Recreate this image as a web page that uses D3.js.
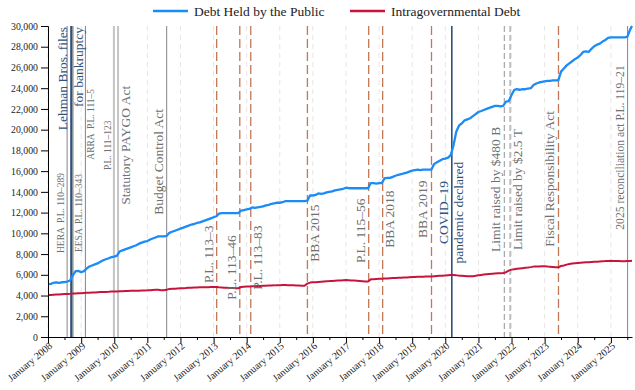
<!DOCTYPE html>
<html>
<head>
<meta charset="utf-8">
<script src="https://cdn.jsdelivr.net/npm/d3@7"></script>
<style>
  body { margin: 0; background: #fff; }
  svg { font-family: "Palatino Linotype", "Book Antiqua", Palatino, "Liberation Serif", serif; }
</style>
</head>
<body>
<div id="chart"></div>
<script>
// billions of dollars (1st of each month, Jan 2008 - Aug 2025, then last day shown)
const months = d3.timeMonth.range(new Date(2008, 0, 1), new Date(2025, 8, 1))
    .concat([new Date(2025, 7, 22)]);

const publicDebt = [
    5100, 5130, 5230, 5280, 5220, 5280, 5300, 5350, 5450, 5950, 6350, 6380,
    6250, 6350, 6600, 6800, 6900, 7000, 7100, 7250, 7400, 7500, 7600, 7700,
    7750, 7850, 8250, 8350, 8450, 8550, 8650, 8750, 8850, 9000, 9100, 9200,
    9250, 9400, 9500, 9600, 9700, 9700, 9700, 9750, 10050, 10150, 10250, 10350,
    10450, 10550, 10650, 10750, 10850, 10900, 11000, 11050, 11150, 11250, 11350, 11450,
    11550, 11650, 11900, 11950, 11950, 11950, 11950, 11950, 11950, 11950, 12200, 12250,
    12300, 12350, 12500, 12450, 12500, 12550, 12600, 12700, 12750, 12850, 12900, 12950,
    12950, 13000, 13100, 13100, 13100, 13100, 13100, 13100, 13100, 13100, 13150, 13650,
    13650, 13700, 13850, 13800, 13850, 13950, 14000, 14050, 14150, 14200, 14250, 14300,
    14400, 14350, 14350, 14350, 14350, 14350, 14350, 14350, 14350, 14850, 14850, 14800,
    14850, 14850, 15300, 15350, 15350, 15450, 15550, 15650, 15700, 15780, 15850, 15950,
    16050, 16100, 16150, 16100, 16150, 16150, 16150, 16150, 16700, 16850, 17000, 17150,
    17200, 17300, 17550, 18500, 19800, 20400, 20600, 20900, 21000, 21100, 21300, 21500,
    21700, 21800, 21900, 22000, 22100, 22200, 22300, 22300, 22250, 22300, 22700, 22750,
    23350, 23850, 23900, 23850, 23900, 23900, 23950, 24000, 24300, 24450, 24550, 24600,
    24650, 24700, 24700, 24750, 24750, 24750, 25600, 25900, 26200, 26400, 26600, 26800,
    26950, 27200, 27500, 27550, 27500, 27800, 28050, 28200, 28300, 28500, 28650, 28850,
    28900, 28900, 28900, 28900, 28900, 28900, 28950, 29650,
    30000
];

const intragovDebt = [
    4050, 4060, 4080, 4100, 4100, 4120, 4140, 4150, 4170, 4200, 4200, 4220,
    4230, 4250, 4270, 4280, 4290, 4300, 4320, 4330, 4340, 4350, 4360, 4380,
    4380, 4400, 4410, 4420, 4430, 4440, 4450, 4450, 4460, 4470, 4480, 4490,
    4500, 4520, 4540, 4560, 4550, 4520, 4500, 4550, 4640, 4650, 4660, 4680,
    4700, 4710, 4720, 4740, 4750, 4770, 4780, 4790, 4800, 4800, 4810, 4820,
    4830, 4830, 4800, 4780, 4760, 4740, 4730, 4720, 4710, 4700, 4820, 4850,
    4870, 4880, 4890, 4900, 4910, 4920, 4940, 4950, 4960, 4970, 4980, 5000,
    5000, 5010, 5010, 5000, 4990, 4980, 4970, 4960, 4950, 4940, 5150, 5250,
    5270, 5290, 5310, 5330, 5350, 5370, 5390, 5400, 5420, 5440, 5460, 5480,
    5490, 5480, 5460, 5440, 5420, 5400, 5380, 5360, 5350, 5560, 5580, 5600,
    5610, 5620, 5640, 5650, 5670, 5690, 5700, 5710, 5720, 5740, 5750, 5770,
    5780, 5790, 5800, 5810, 5820, 5830, 5830, 5840, 5860, 5880, 5900, 5920,
    5940, 5960, 5980, 5990, 5950, 5920, 5900, 5880, 5860, 5850, 5870, 5900,
    5950, 5990, 6020, 6050, 6080, 6110, 6130, 6140, 6150, 6170, 6250, 6400,
    6500, 6540, 6580, 6610, 6640, 6670, 6700, 6740, 6790, 6800, 6810, 6820,
    6830, 6800, 6780, 6760, 6730, 6720, 6850, 6900, 6980, 7050, 7100, 7120,
    7140, 7160, 7180, 7200, 7220, 7240, 7260, 7270, 7290, 7310, 7320, 7340,
    7350, 7340, 7330, 7320, 7310, 7300, 7320, 7340,
    7350
];

const seriesNames = ["Debt Held by the Public", "Intragovernmental Debt"];

const yTicks = [0, 2000, 4000, 6000, 8000, 10000, 12000, 14000, 16000,
    18000, 20000, 22000, 24000, 26000, 28000, 30000];
const tickYears = [2008, 2009, 2010, 2011, 2012, 2013, 2014, 2015, 2016,
    2017, 2018, 2019, 2020, 2021, 2022, 2023, 2024, 2025];

// events marked on the chart
const eventDates = ["2008-07-30", "2008-09-15", "2008-10-03", "2009-02-17", "2009-12-28",
    "2010-02-12", "2011-08-02", "2013-02-04", "2013-10-17", "2014-02-15", "2015-11-02",
    "2017-09-08", "2018-02-09", "2019-08-02", "2020-03-13", "2021-10-14", "2021-12-16",
    "2023-06-03", "2025-07-04"];
const eventLabels = [
    ["HERA  P.L. 110–289"], ["Lehman Bros. files", "for bankruptcy"], ["EESA  P.L. 110–343"],
    ["ARRA  P.L. 111–5"], ["P.L. 111–123"], ["Statutory PAYGO Act"], ["Budget Control Act"],
    ["P.L. 113–3"], ["P.L. 113–46"], ["P.L. 113–83"], ["BBA 2015"], ["P.L. 115–56"],
    ["BBA 2018"], ["BBA 2019"], ["COVID–19", "pandemic declared"], ["Limit raised by $480 B"],
    ["Limit raised by $2.5 T"], ["Fiscal Responsibility Act"], ["2025 reconciliation act P.L. 119–21"]];
const eventKinds = ["law", "crisis", "law", "law", "law2", "law2", "law", "budget", "budget",
    "budget", "budget", "budget", "budget", "budget", "crisis", "limit", "limit", "budget", "law"];

// label placement: which side of the line, where along the y scale the text is anchored
const labelLayout = [
    { sides: ["l"], at: 8100, anchor: "start", size: 9.5 },
    { sides: ["l", "r"], at: 29900, anchor: "end", size: 13.5 },
    { sides: ["r"], at: 8200, anchor: "start", size: 9.5 },
    { sides: ["r"], at: 17100, anchor: "start", size: 9.5 },
    { sides: ["l"], at: 16100, anchor: "start", size: 9.5 },
    { sides: ["r"], at: 12750, anchor: "start", size: 13.5 },
    { sides: ["l"], at: 11800, anchor: "start", size: 13.5 },
    { sides: ["l"], at: 5200, anchor: "start", size: 13.5 },
    { sides: ["l"], at: 3600, anchor: "start", size: 13.5 },
    { sides: ["r"], at: 4550, anchor: "start", size: 13.5 },
    { sides: ["r"], at: 7250, anchor: "start", size: 13.5 },
    { sides: ["l"], at: 7150, anchor: "start", size: 13.5 },
    { sides: ["r"], at: 8600, anchor: "start", size: 13.5 },
    { sides: ["l"], at: 9550, anchor: "start", size: 13.5 },
    { sides: ["l", "r"], at: 12000, anchor: "middle", size: 13.5 },
    { sides: ["l"], at: 8200, anchor: "start", size: 13.5 },
    { sides: ["r"], at: 8400, anchor: "start", size: 13.5 },
    { sides: ["l"], at: 8700, anchor: "start", size: 13.5 },
    { sides: ["l"], at: 10350, anchor: "start", size: 11.6 }
];

const lineStyles = {
    law:    { stroke: "#8f8f8f", width: 1.1, dash: null },
    law2:   { stroke: "#c4c4c4", width: 2, dash: null },
    crisis: { stroke: "#2f527b", width: 1.6, dash: null },
    budget: { stroke: "#c27756", width: 1.3, dash: "9,4" },
    limit:  { stroke: "#ababab", width: 1.3, dash: "6,3" }
};

const drawChart = () => {
    const width = 635;
    const height = 390;
    const margin = { top: 26, right: 3, bottom: 53, left: 48 };
    const innerWidth = width - margin.left - margin.right;
    const innerHeight = height - margin.top - margin.bottom;

    const blue = "#1b8cf7";
    const crimson = "#c8143c";
    const labelGrey = "#707070";

    const xScale = d3.scaleTime()
        .domain([new Date(2008, 0, 1), new Date(2025, 7, 22)])
        .range([0, innerWidth]);

    const yScale = d3.scaleLinear()
        .domain([0, 30000])
        .range([innerHeight, 0]);

    const svg = d3.select("#chart")
        .append("svg")
        .attr("width", width)
        .attr("height", height);

    const innerChart = svg.append("g")
        .attr("transform", `translate(${margin.left},${margin.top})`);

    // faint dashed year grid
    innerChart.selectAll(".grid")
        .data(tickYears)
        .join("line")
            .attr("class", "grid")
            .attr("x1", d => xScale(new Date(d, 0, 1)))
            .attr("x2", d => xScale(new Date(d, 0, 1)))
            .attr("y1", 0)
            .attr("y2", innerHeight)
            .attr("stroke", "#e6e6e6")
            .attr("stroke-width", 1)
            .attr("stroke-dasharray", "5,4");

    // event lines
    const parseDate = d3.timeParse("%Y-%m-%d");
    const events = eventDates.map((d, i) => ({
        date: parseDate(d),
        lines: eventLabels[i],
        kind: eventKinds[i],
        layout: labelLayout[i]
    }));

    innerChart.selectAll(".event")
        .data(events)
        .join("line")
            .attr("class", "event")
            .attr("x1", d => xScale(d.date))
            .attr("x2", d => xScale(d.date))
            .attr("y1", 0)
            .attr("y2", innerHeight)
            .attr("stroke", d => lineStyles[d.kind].stroke)
            .attr("stroke-width", (d, i) => i === 1 ? 2.4 : lineStyles[d.kind].width)
            .attr("stroke-dasharray", d => lineStyles[d.kind].dash);

    // series
    const series = [publicDebt, intragovDebt];
    const colors = [blue, crimson];
    const line = d3.line()
        .x((d, i) => xScale(months[i]))
        .y(d => yScale(d));

    innerChart.selectAll(".series")
        .data(series)
        .join("path")
            .attr("class", "series")
            .attr("d", d => line(d))
            .attr("fill", "none")
            .attr("stroke", (d, i) => colors[i])
            .attr("stroke-width", (d, i) => i === 0 ? 2.3 : 2)
            .attr("stroke-linejoin", "round");

    // event labels (rotated)
    events.forEach(ev => {
        const x = xScale(ev.date);
        const s = ev.layout.size;
        ev.lines.forEach((txt, j) => {
            const side = ev.layout.sides[j];
            const bx = side === "l" ? x - 0.3 * s : x + 0.7 * s + 2;
            innerChart.append("text")
                .attr("transform", `translate(${bx},${yScale(ev.layout.at)}) rotate(-90)`)
                .attr("text-anchor", ev.layout.anchor)
                .attr("font-size", s)
                .attr("fill", ev.kind === "crisis" ? "#2f527b" : labelGrey)
                .attr("xml:space", "preserve")
                .style("white-space", "pre")
                .text(txt);
        });
    });

    // axes
    const leftAxis = d3.axisLeft(yScale)
        .tickValues(yTicks)
        .tickFormat(d3.format(","))
        .tickSize(7)
        .tickPadding(3);

    const yAxis = innerChart.append("g").call(leftAxis);
    yAxis.selectAll("text")
        .attr("font-size", 9.8)
        .attr("font-family", "\"Palatino Linotype\", \"Liberation Serif\", serif")
        .attr("fill", "#222");

    const bottomAxis = d3.axisBottom(xScale)
        .tickValues(tickYears.map(y => new Date(y, 0, 1)))
        .tickFormat(d3.timeFormat("January %Y"))
        .tickSize(6)
        .tickSizeOuter(0);

    const xAxis = innerChart.append("g")
        .attr("transform", `translate(0,${innerHeight})`)
        .call(bottomAxis);
    xAxis.selectAll("text")
        .attr("font-size", 10.2)
        .attr("font-family", "\"Palatino Linotype\", \"Liberation Serif\", serif")
        .attr("fill", "#222")
        .attr("text-anchor", "end")
        .attr("y", 0)
        .attr("dy", "0")
        .attr("transform", "translate(4.5,10) rotate(-40)");

    const minorAxis = d3.axisBottom(xScale)
        .tickValues(tickYears.map(y => new Date(y, 6, 1)))
        .tickFormat("")
        .tickSize(3)
        .tickSizeOuter(0);
    innerChart.append("g")
        .attr("transform", `translate(0,${innerHeight})`)
        .call(minorAxis)
        .select(".domain").remove();

    // legend
    const legend = svg.append("g");
    const legendX = [153, 350];
    seriesNames.forEach((name, i) => {
        legend.append("line")
            .attr("x1", legendX[i])
            .attr("x2", legendX[i] + 35)
            .attr("y1", 11)
            .attr("y2", 11)
            .attr("stroke", colors[i])
            .attr("stroke-width", 2.5);
        legend.append("text")
            .attr("x", legendX[i] + 41)
            .attr("y", 15.5)
            .attr("font-size", 13.5)
            .attr("fill", "#222")
            .text(name);
    });
};

drawChart();
</script>
</body>
</html>
